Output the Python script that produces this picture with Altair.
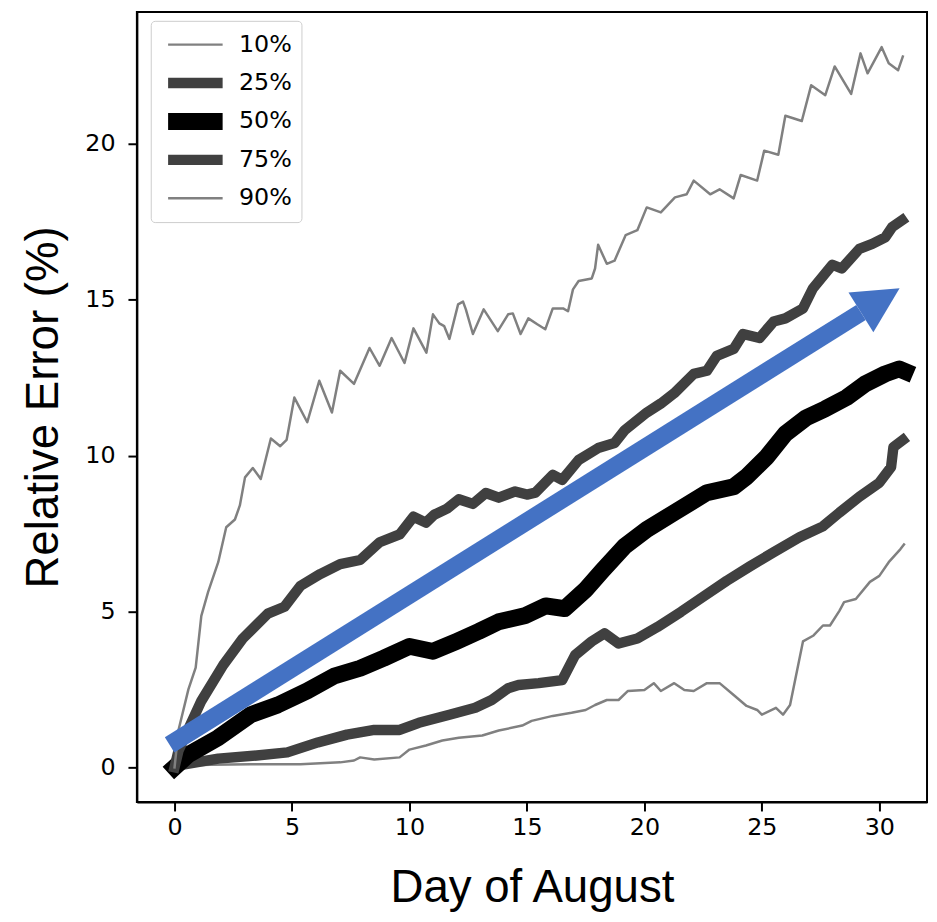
import altair as alt
import pandas as pd

quantiles = ["10%", "25%", "50%", "75%", "90%"]
line_colors = ["#808080", "#404040", "#000000", "#404040", "#808080"]
line_widths = [2.5, 10.5, 17, 10.5, 2.5]

x_ticks = [0, 5, 10, 15, 20, 25, 30]
y_ticks = [0, 5, 10, 15, 20]

q10 = [(0, 0), (0.6, 0.06), (1.5, 0.08), (3.25, 0.1), (5.36, 0.1), (7.05, 0.16),
       (7.64, 0.22), (7.9, 0.32), (8.5, 0.25), (9.58, 0.32), (10.0, 0.57), (10.7, 0.7),
       (11.4, 0.86), (12.1, 0.95), (13.1, 1.02), (13.8, 1.18), (14.8, 1.34), (15.2, 1.49),
       (16.1, 1.65), (16.9, 1.75), (17.5, 1.84), (17.9, 2.0), (18.4, 2.16), (18.9, 2.16),
       (19.3, 2.45), (20.0, 2.48), (20.4, 2.7), (20.7, 2.45), (21.27, 2.7), (21.7, 2.48),
       (22.1, 2.45), (22.66, 2.7), (23.2, 2.7), (23.8, 2.32), (24.35, 1.97), (24.8, 1.84),
       (25.0, 1.69), (25.6, 1.91), (25.9, 1.69), (26.2, 2.0), (26.75, 4.04), (27.2, 4.23),
       (27.6, 4.55), (27.9, 4.55), (28.3, 5.02), (28.5, 5.3), (29.0, 5.4), (29.6, 5.95),
       (30.0, 6.14), (30.4, 6.58), (30.9, 7.0), (31.05, 7.15)]

q25 = [(0, 0), (0.3, 0.08), (1.86, 0.28), (3.5, 0.38), (4.8, 0.48), (6.1, 0.8),
       (7.34, 1.05), (8.5, 1.2), (9.58, 1.2), (10.4, 1.43), (11.7, 1.69), (12.8, 1.91),
       (13.5, 2.16), (14.2, 2.54), (14.64, 2.64), (15.5, 2.7), (16.5, 2.8), (17.05, 3.6),
       (17.76, 4.04), (18.3, 4.3), (18.9, 3.97), (19.7, 4.13), (20.55, 4.5), (21.56, 4.99),
       (22.5, 5.47), (23.5, 5.98), (24.5, 6.45), (25.5, 6.9), (26.6, 7.38), (27.6, 7.73),
       (28.3, 8.17), (29.15, 8.68), (30.0, 9.13), (30.5, 9.63), (30.6, 10.27), (31.0, 10.5)]

q50 = [(0, 0), (0.59, 0.41), (1.86, 0.95), (3.25, 1.69), (4.39, 2.0), (5.65, 2.45),
       (6.8, 2.93), (7.9, 3.18), (8.9, 3.5), (10.0, 3.88), (11.0, 3.72), (12.0, 4.04),
       (12.95, 4.36), (13.8, 4.67), (14.9, 4.86), (15.8, 5.18), (16.6, 5.09), (17.5, 5.7),
       (18.2, 6.3), (19.16, 7.09), (20.1, 7.63), (21.27, 8.17), (22.66, 8.81), (23.8, 9.0),
       (24.35, 9.32), (25.2, 9.95), (26.0, 10.7), (26.9, 11.22), (27.7, 11.5), (28.6, 11.86),
       (29.4, 12.3), (30.25, 12.62), (30.85, 12.78), (31.1, 12.7)]

q75 = [(0, 0), (0.17, 0.54), (1.14, 2.13), (2.07, 3.28), (2.9, 4.13), (3.97, 4.93),
       (4.68, 5.15), (5.36, 5.82), (6.2, 6.2), (7.05, 6.52), (7.9, 6.65), (8.73, 7.22),
       (9.58, 7.47), (10.17, 8.04), (10.7, 7.85), (11.05, 8.1), (11.6, 8.3), (12.1, 8.6),
       (12.7, 8.45), (13.25, 8.8), (13.8, 8.65), (14.5, 8.85), (15.0, 8.75), (15.36, 8.81),
       (16.1, 9.38), (16.5, 9.22), (17.2, 9.86), (18.03, 10.24), (18.73, 10.4), (19.16, 10.81),
       (20.1, 11.38), (20.7, 11.67), (21.27, 12.0), (22.1, 12.62), (22.66, 12.72), (23.08, 13.2),
       (23.8, 13.42), (24.2, 13.9), (24.9, 13.77), (25.5, 14.3), (26.0, 14.4), (26.75, 14.72),
       (27.17, 15.36), (28.0, 16.12), (28.4, 16.0), (29.15, 16.63), (29.7, 16.79), (30.25, 17.0),
       (30.55, 17.33), (30.97, 17.55)]

q90 = [(0, 0), (0.17, 1.2), (0.59, 2.5), (0.9, 3.2), (1.14, 4.86), (1.43, 5.63),
       (1.86, 6.58), (2.2, 7.7), (2.57, 7.95), (2.78, 8.4), (3.0, 9.3), (3.33, 9.6),
       (3.67, 9.25), (4.1, 10.55), (4.5, 10.3), (4.77, 10.5), (5.1, 11.86), (5.65, 11.07),
       (6.16, 12.4), (6.7, 11.38), (7.05, 12.72), (7.64, 12.3), (8.3, 13.45), (8.73, 12.88),
       (9.24, 13.77), (9.79, 12.97), (10.17, 14.08), (10.72, 13.3), (11.0, 14.53), (11.27, 14.24),
       (11.48, 14.15), (11.7, 13.74), (12.07, 14.85), (12.28, 14.94), (12.4, 14.69), (12.7, 13.9),
       (13.16, 14.69), (13.76, 13.99), (14.2, 14.53), (14.4, 14.56), (14.73, 13.9), (15.06, 14.4),
       (15.44, 14.21), (15.78, 14.05), (16.1, 14.72), (16.54, 14.72), (16.75, 14.63), (16.96, 15.33),
       (17.2, 15.6), (17.76, 15.68), (17.9, 16.0), (18.03, 16.76), (18.4, 16.15), (18.73, 16.25),
       (19.2, 17.07), (19.7, 17.23), (20.1, 17.96), (20.7, 17.8), (21.3, 18.28), (21.8, 18.38),
       (22.1, 18.82), (22.8, 18.38), (23.2, 18.54), (23.8, 18.25), (24.1, 19.0), (24.8, 18.82),
       (25.1, 19.78), (25.7, 19.65), (26.0, 20.9), (26.7, 20.73), (27.1, 21.88), (27.7, 21.56),
       (28.1, 22.48), (28.8, 21.6), (29.2, 22.9), (29.5, 22.26), (30.1, 23.1), (30.4, 22.58),
       (30.8, 22.36), (31.0, 22.8)]

arrow_day = [-0.21, 29.22]
arrow_err = [0.72, 14.59]
arrow_head_day = [30.04]
arrow_head_err = [14.98]

rows = []
for name, pts in zip(quantiles, [q10, q25, q50, q75, q90]):
    for d, v in pts:
        rows.append({"day": d, "err": v, "q": name})
df = pd.DataFrame(rows)

shaft_df = pd.DataFrame({"day": arrow_day, "err": arrow_err})
head_df = pd.DataFrame({"day": arrow_head_day, "err": arrow_head_err})

x_scale = alt.Scale(domain=[-1.603, 32.03], nice=False, zero=False)
y_scale = alt.Scale(domain=[-1.113, 24.23], nice=False, zero=False)

x_axis = alt.Axis(values=x_ticks, title="Day of August", labelPadding=5, titlePadding=26)
y_axis = alt.Axis(values=y_ticks, title="Relative Error (%)", labelPadding=13, titlePadding=18)

legend = alt.Legend(
    title=None, orient="none", legendX=14, legendY=9,
    symbolType="stroke", symbolSize=3025, clipHeight=30, rowPadding=8.75,
    padding=9, labelOffset=8, labelFontSize=24, labelFont="DejaVu Sans",
    labelColor="black", fillColor="white", strokeColor="#cccccc", cornerRadius=4,
)

lines = alt.Chart(df).mark_line(strokeJoin="round", strokeCap="square").encode(
    x=alt.X("day:Q", scale=x_scale, axis=x_axis),
    y=alt.Y("err:Q", scale=y_scale, axis=y_axis),
    color=alt.Color("q:N", scale=alt.Scale(type="ordinal", domain=quantiles, range=line_colors), legend=legend),
    strokeWidth=alt.StrokeWidth("q:N", scale=alt.Scale(type="ordinal", domain=quantiles, range=line_widths), legend=legend),
)

shaft = alt.Chart(shaft_df).mark_line(color="#4472C4", strokeWidth=18, strokeCap="butt").encode(
    x=alt.X("day:Q", scale=x_scale),
    y=alt.Y("err:Q", scale=y_scale),
)

head = alt.Chart(head_df).mark_point(
    shape="M1,0 L-1,-1.03 L-1,1.03 Z", filled=True, fill="#4472C4", opacity=1,
    size=2116, angle=328, strokeWidth=0,
).encode(
    x=alt.X("day:Q", scale=x_scale),
    y=alt.Y("err:Q", scale=y_scale),
)

chart = alt.layer(lines, shaft, head).properties(
    width=797, height=797,
    autosize=alt.AutoSizeParams(type="none"),
    padding={"left": 130, "top": 0, "right": 2, "bottom": 112},
).configure_view(
    stroke="black", strokeWidth=2,
).configure_axis(
    grid=False, domainColor="black", domainWidth=2, tickColor="black", tickWidth=2,
    tickSize=9, labelFont="DejaVu Sans", labelFontSize=24, labelColor="black",
    titleFont="Liberation Sans", titleFontSize=46, titleFontWeight="normal", titleColor="black",
)

chart.save("out.html", embed_options={"renderer": "svg", "actions": False})
